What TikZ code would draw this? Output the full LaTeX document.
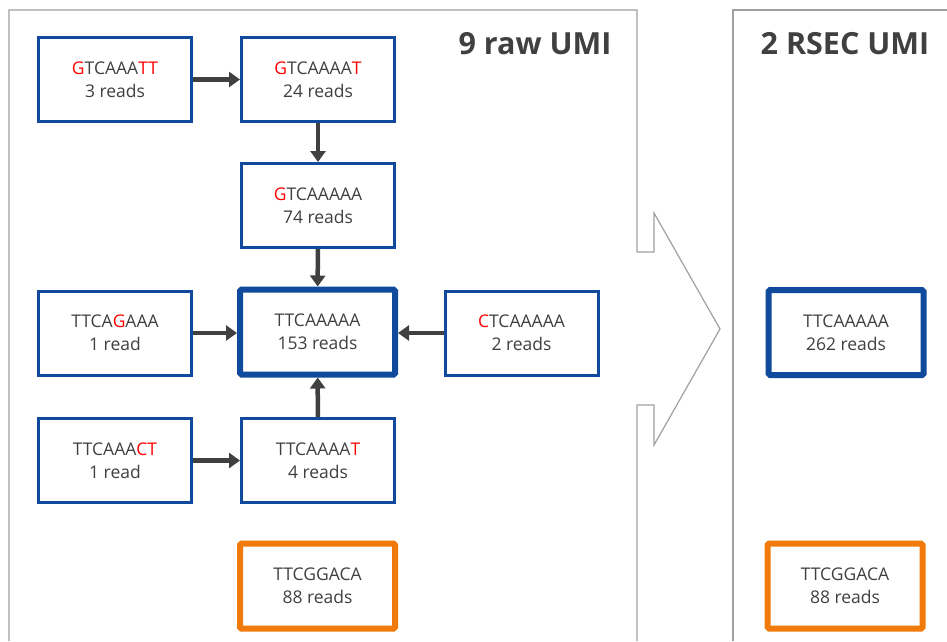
\documentclass[tikz,border=0pt]{standalone}
\usepackage{fontspec}
\setmainfont{Open Sans}
\usetikzlibrary{arrows.meta}
\definecolor{umiblue}{RGB}{16,74,156}
\definecolor{umiorange}{RGB}{240,122,10}
\definecolor{txtgray}{RGB}{64,64,64}
\definecolor{panelgray}{RGB}{160,160,160}
\definecolor{mutred}{RGB}{255,0,0}
\tikzset{
  umibox/.style={draw=umiblue, line width=3pt, fill=white, align=center,
    minimum width=153pt, minimum height=84pt, inner sep=0pt,
    text=txtgray, font=\fontsize{17.5}{23}\selectfont},
  mainbox/.style={umibox, line width=6pt, minimum width=155pt, minimum height=85pt, rounded corners=1.5pt},
  orangebox/.style={mainbox, draw=umiorange},
  merge/.style={draw=txtgray, line width=4.5pt, -{Triangle[length=11pt,width=15pt]}, shorten >=0pt},
  panel/.style={draw=panelgray, line width=1.2pt},
  paneltitle/.style={text=txtgray, font=\fontsize{30.5}{36}\selectfont\bfseries, inner sep=0pt}
}
\newcommand{\mr}[1]{\textcolor{mutred}{#1}}
\begin{document}
\begin{tikzpicture}[x=1pt,y=-1pt]
\useasboundingbox (0,0) rectangle (947,641);
% panels
\draw[panel] (9,641) -- (9,10) -- (637,10) -- (637,252) -- (654,252) -- (654,213)
  -- (720,329) -- (654,445) -- (654,405) -- (637,405) -- (637,641);
\draw[panel] (733,641) -- (733,10) -- (947,10);
\node[paneltitle] (t1) at (535,44) {9 raw UMI};
\node[paneltitle] (t2) at (845,44) {2 RSEC UMI};
% boxes
\node[umibox] (b1) at (115,79.5) {\mr{G}TCAAA\mr{TT}\\3 reads};
\node[umibox] (b2) at (318,79.5) {\mr{G}TCAAAA\mr{T}\\24 reads};
\node[umibox] (b3) at (318,205.5) {\mr{G}TCAAAAA\\74 reads};
\node[mainbox] (c) at (317.5,332) {TTCAAAAA\\153 reads};
\node[umibox] (l) at (115,333) {TTCA\mr{G}AAA\\1 read};
\node[umibox] (r) at (521.5,333) {\mr{C}TCAAAAA\\2 reads};
\node[umibox] (ll) at (115,460.5) {TTCAAA\mr{CT}\\1 read};
\node[umibox] (lm) at (318,460.5) {TTCAAAA\mr{T}\\4 reads};
\node[orangebox] (o) at (317.5,586) {TTCGGACA\\88 reads};
\node[mainbox] (rc) at (846,332.5) {TTCAAAAA\\262 reads};
\node[orangebox] (ro) at (845,586) {TTCGGACA\\88 reads};
% arrows
\draw[merge] (b1) -- (b2);
\draw[merge] (b2) -- (b3);
\draw[merge] (b3) -- (c);
\draw[merge] (l.east) -- (l.east -| c.west);
\draw[merge] (r.west) -- (r.west -| c.east);
\draw[merge] (lm) -- (c);
\draw[merge] (ll) -- (lm);
\end{tikzpicture}
\end{document}
